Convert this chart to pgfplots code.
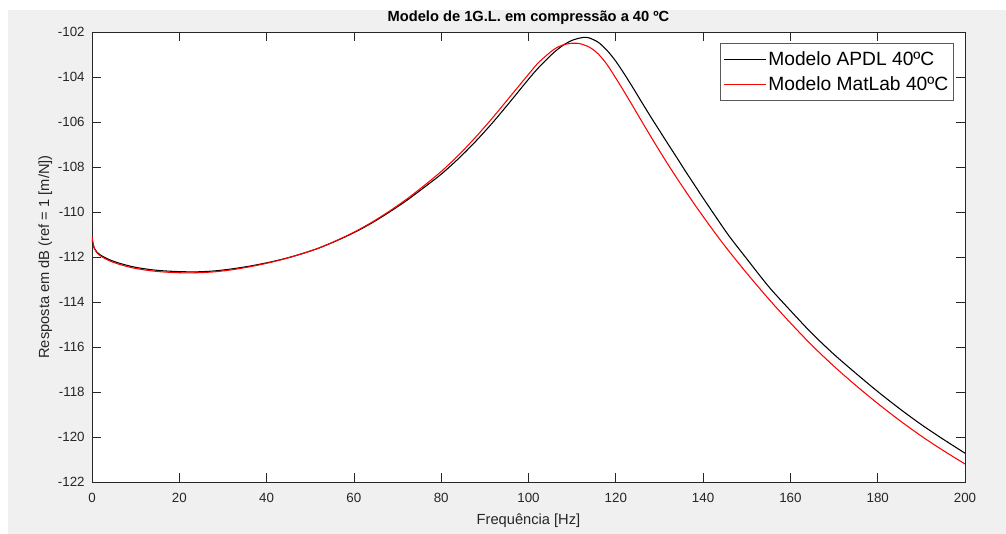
\documentclass[border=0pt]{standalone}
\usepackage{pgfplots}
\pgfplotsset{compat=1.18}
\usepackage{fontspec}
\setmainfont{Liberation Sans}
\definecolor{figgray}{HTML}{F0F0F0}
\definecolor{axgray}{HTML}{262626}
\definecolor{leggray}{HTML}{5A5A5A}
\begin{document}
\begin{tikzpicture}
\path[use as bounding box] (0,0) rectangle (754.5pt,400.5pt);
\fill[white] (0,0) rectangle (754.5pt,400.5pt);
\fill[figgray] (6pt,0) rectangle (754.5pt,393pt);
\begin{axis}[
  at={(69pt,39pt)}, anchor=south west,
  scale only axis, width=654.75pt, height=337.5pt,
  xmin=0, xmax=200, ymin=-122, ymax=-102,
  xtick={0,20,...,200}, ytick={-122,-120,...,-102},
  axis background/.style={fill=white},
  axis line style={axgray, line width=0.6pt},
  tick style={axgray, line width=0.6pt},
  major tick length=6.5pt,
  tick align=inside,
  /pgf/number format/assume math mode=true,
  ticklabel style={font=\fontsize{10}{12}\selectfont, text=axgray},
  xticklabel style={yshift=-4.5pt},
  yticklabel style={xshift=-2pt},
  title={\textbf{Modelo de 1G.L. em compressão a 40 ºC}},
  title style={at={(axis description cs:0.5,1.0133)}, anchor=center, font=\fontsize{11}{13}\selectfont, text=black},
  xlabel={Frequência [Hz]},
  xlabel style={at={(axis description cs:0.5,-0.086)}, anchor=center, font=\fontsize{11}{13}\selectfont, text=axgray},
  ylabel={Resposta em dB (ref = 1 [m/N])},
  ylabel style={at={(axis description cs:-0.0535,0.5)}, anchor=center, font=\fontsize{11}{13}\selectfont, text=axgray},
  legend style={at={(1,1)}, anchor=north east, xshift=-8.25pt, yshift=-8.25pt,
    draw=leggray, line width=0.6pt, fill=white,
    font=\fontsize{14.4}{17}\selectfont,
    inner xsep=2.5pt, inner ysep=2.5pt, row sep=0pt,
    nodes={inner xsep=1.5pt, inner ysep=3.4pt, anchor=west}},
  legend cell align=left,
  legend image code/.code={\draw[#1] (0pt,0pt) -- (31pt,0pt);},
]
\addplot[black, line width=0.8pt, smooth] coordinates {
(0,-111.25) (0.5,-111.6) (1,-111.75) (2,-111.92) (4,-112.12) (6,-112.26) (8,-112.37)
(10,-112.46) (13,-112.55) (16,-112.61) (20,-112.65) (24,-112.66) (28,-112.62)
(32,-112.53) (36,-112.41) (40,-112.26) (44,-112.08) (48,-111.86) (52,-111.6)
(56,-111.28) (60,-110.92) (64,-110.5) (68,-110.02) (72,-109.5) (76,-108.92)
(80,-108.32) (84,-107.62) (88,-106.84) (92,-105.98) (96,-105.05) (100,-104.1)
(102,-103.65) (104,-103.25) (106,-102.88) (108,-102.58) (110,-102.37) (112,-102.26)
(113,-102.24) (114,-102.27) (116,-102.46) (118,-102.82) (120,-103.3) (122,-103.88)
(124,-104.5) (126,-105.14) (128,-105.77) (130,-106.38) (132,-106.99) (134,-107.59)
(136,-108.2) (138,-108.79) (140,-109.38) (143,-110.24) (146,-111.08) (150,-112.08)
(155,-113.31) (160,-114.38) (165,-115.41) (170,-116.33) (175,-117.17) (180,-117.98)
(185,-118.74) (190,-119.45) (195,-120.1) (200,-120.72)
};
\addlegendentry{Modelo APDL 40ºC}
\addplot[red, line width=0.8pt, smooth] coordinates {
(0,-111.1) (0.5,-111.6) (1,-111.78) (2,-111.96) (4,-112.17) (6,-112.31) (8,-112.42)
(10,-112.51) (13,-112.6) (16,-112.66) (20,-112.7) (24,-112.7) (28,-112.66)
(32,-112.57) (36,-112.44) (40,-112.28) (44,-112.09) (48,-111.86) (52,-111.6)
(56,-111.27) (60,-110.9) (64,-110.47) (68,-109.98) (72,-109.44) (76,-108.84)
(80,-108.2) (84,-107.47) (88,-106.65) (92,-105.76) (96,-104.82) (100,-103.88)
(102,-103.42) (104,-103.06) (106,-102.75) (108,-102.57) (110,-102.5) (111,-102.5)
(112,-102.53) (114,-102.68) (116,-102.98) (118,-103.45) (120,-104.05) (122,-104.68)
(124,-105.33) (126,-105.99) (128,-106.64) (130,-107.28) (132,-107.9) (134,-108.5)
(136,-109.08) (138,-109.65) (140,-110.2) (143,-111.0) (146,-111.76) (150,-112.72)
(155,-113.86) (160,-114.93) (165,-115.94) (170,-116.86) (175,-117.71) (180,-118.51)
(185,-119.26) (190,-119.96) (195,-120.6) (200,-121.2)
};
\addlegendentry{Modelo MatLab 40ºC}
\end{axis}
\end{tikzpicture}
\end{document}
